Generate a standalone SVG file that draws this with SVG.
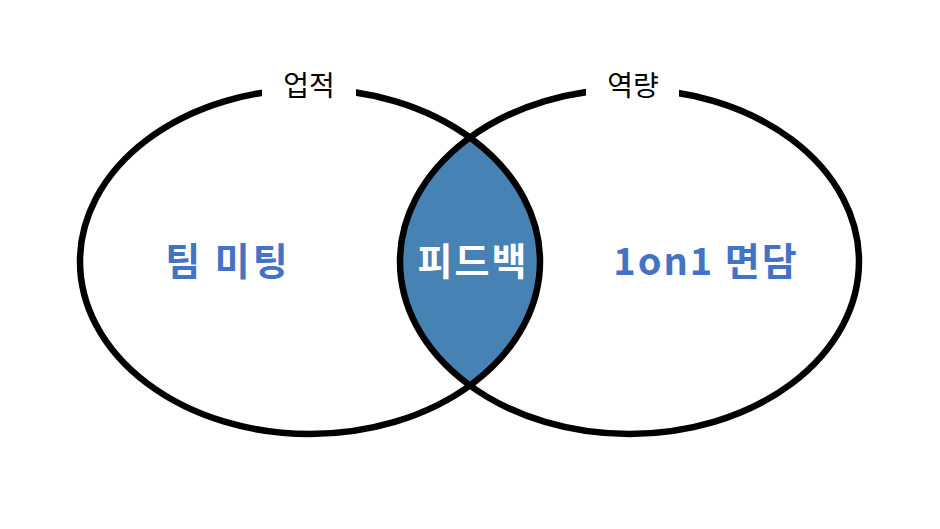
<svg xmlns="http://www.w3.org/2000/svg" width="940" height="529" viewBox="0 0 940 529">
<style>
.ring{fill:none;stroke:#000;stroke-width:6.5}
.gap{fill:#fff}
.top{font-family:"Noto Sans CJK KR","Noto Sans",sans-serif;font-size:28px;fill:#000;text-anchor:middle}
.big{font-family:"Noto Sans CJK KR","Noto Sans",sans-serif;font-size:38px;font-weight:bold;fill:#4472C4;text-anchor:middle;letter-spacing:3px}
.lens{font-family:"Noto Sans CJK KR","Noto Sans",sans-serif;font-size:38px;font-weight:bold;fill:#fff;text-anchor:middle;letter-spacing:2px}
</style>
<defs>
<clipPath id="clipL"><ellipse cx="310" cy="261.5" rx="230" ry="172.5"/></clipPath>
</defs>
<rect width="940" height="529" fill="#fff"/>
<g id="lens">
<ellipse cx="629.5" cy="261.5" rx="229.5" ry="172.5" fill="#4682B4" clip-path="url(#clipL)"/>
</g>
<g id="left">
<ellipse class="ring" cx="310" cy="261.5" rx="230" ry="172.5"/>
</g>
<g id="right">
<ellipse class="ring" cx="629.5" cy="261.5" rx="229.5" ry="172.5"/>
</g>
<g id="labels">
<rect class="gap" x="262" y="70" width="94" height="30"/>
<rect class="gap" x="586" y="70" width="93" height="30"/>
<text class="top" x="309" y="96">업적</text>
<text class="top" x="633" y="96">역량</text>
<text class="big" x="228" y="275">팀 미팅</text>
<text class="lens" x="473" y="275">피드백</text>
<text class="big" x="706" y="275" style="letter-spacing:2px">1on1 면담</text>
</g>
</svg>
